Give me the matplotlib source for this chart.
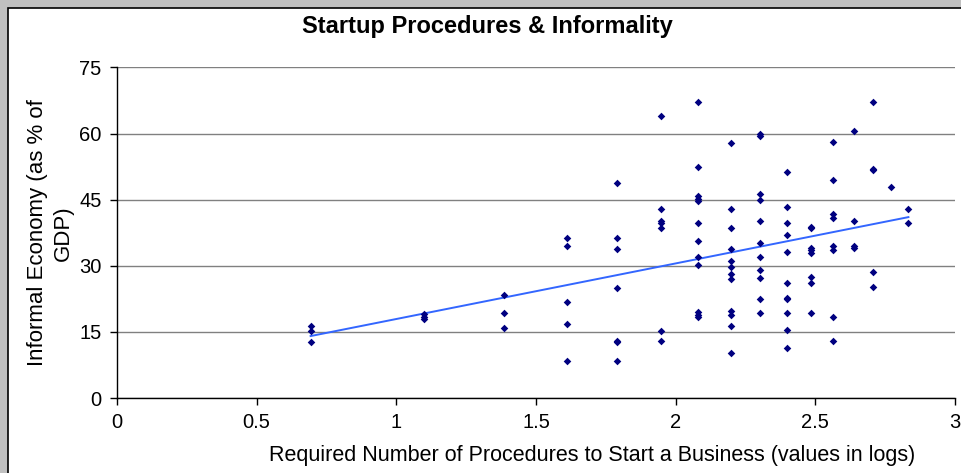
import numpy as np
import matplotlib
matplotlib.use("Agg")
from matplotlib import pyplot as plt
from matplotlib.patches import Rectangle

plt.rcParams['font.family'] = ['Liberation Sans', 'DejaVu Sans']

# number of procedures -> informal economy (% of GDP)
procedures = [2, 3, 4, 5, 6, 7, 8, 9, 10, 11, 12, 13, 14, 15, 16, 17]
informal = [
    [16.4, 15.1, 12.7],
    [19.1, 18.3, 17.9],
    [23.3, 19.2, 15.9],
    [36.4, 34.4, 21.7, 16.7, 8.5],
    [48.7, 36.4, 33.9, 24.9, 12.9, 12.6, 8.5],
    [63.9, 43.0, 40.1, 39.7, 38.5, 15.1, 13.0],
    [67.2, 52.4, 45.8, 45.1, 44.7, 39.7, 35.6, 32.0, 30.2, 19.6, 18.9, 18.3],
    [57.8, 43.0, 38.5, 33.9, 31.1, 29.8, 28.2, 27.0, 19.7, 18.9, 16.3, 10.1],
    [59.9, 59.5, 46.3, 45.0, 40.2, 35.2, 31.9, 29.0, 27.3, 22.5, 19.2],
    [51.2, 43.4, 39.7, 36.9, 33.1, 26.2, 22.8, 22.4, 19.2, 15.5, 11.4],
    [38.9, 38.5, 34.0, 33.5, 32.9, 27.4, 26.2, 19.2],
    [58.2, 49.5, 41.7, 40.9, 34.4, 33.5, 18.3, 13.0],
    [60.6, 40.2, 34.4, 34.0],
    [67.2, 52.0, 51.7, 28.6, 25.3],
    [47.9],
    [43.0, 39.7],
]

x = []
y = []
for n, vals in zip(procedures, informal):
    for v in vals:
        x.append(np.log(n))
        y.append(v)
x = np.array(x)
y = np.array(y)

slope, intercept = np.polyfit(x, y, 1)
xl = np.array([x.min(), x.max()])

fig = plt.figure(figsize=(9.61, 4.73), dpi=100)
fig.patch.set_facecolor('#C0C0C0')
frame = Rectangle((8 / 961, -0.05), 1.0, 1 - 8 / 473 + 0.05,
                  transform=fig.transFigure, facecolor='white',
                  edgecolor='black', linewidth=1.2, zorder=-10)
fig.add_artist(frame)

ax = fig.add_axes([117 / 961, 1 - 398 / 473, (955 - 117) / 961, (398 - 67.5) / 473])
ax.set_zorder(1)
ax.set_facecolor('white')
ax.scatter(x, y, marker='D', s=15, color='#000080', zorder=3, linewidths=0)
ax.plot(xl, slope * xl + intercept, color='#3366FF', linewidth=1.4, zorder=2)

ax.set_xlim(0, 3)
ax.set_ylim(0, 75)
ax.set_xticks([0, 0.5, 1, 1.5, 2, 2.5, 3])
ax.set_xticklabels(['0', '0.5', '1', '1.5', '2', '2.5', '3'])
ax.set_yticks([0, 15, 30, 45, 60, 75])
ax.yaxis.grid(True, color='#808080', linewidth=1)
ax.set_axisbelow(True)
for s in ['top', 'right']:
    ax.spines[s].set_visible(False)
for s in ['left', 'bottom']:
    ax.spines[s].set_color('black')
    ax.spines[s].set_linewidth(1)
ax.tick_params(direction='out', length=5, width=1, labelsize=14.5, pad=6)

fig.text(487 / 961, 1 - 27 / 473, 'Startup Procedures & Informality',
         fontsize=17, fontweight='bold', ha='center', va='center')
ax.set_xlabel('Required Number of Procedures to Start a Business (values in logs)',
              fontsize=15.5)
ax.xaxis.set_label_coords((592 - 117) / 838, -(466 - 398) / 330.5, transform=ax.transAxes)
ax.xaxis.label.set_va('bottom')
ax.set_ylabel('Informal Economy (as % of\nGDP)', fontsize=16, linespacing=1.3)
ax.yaxis.set_label_coords(-(117 - 74) / 838, 0.5)

fig.savefig('out.png', dpi=100, facecolor=fig.get_facecolor())
